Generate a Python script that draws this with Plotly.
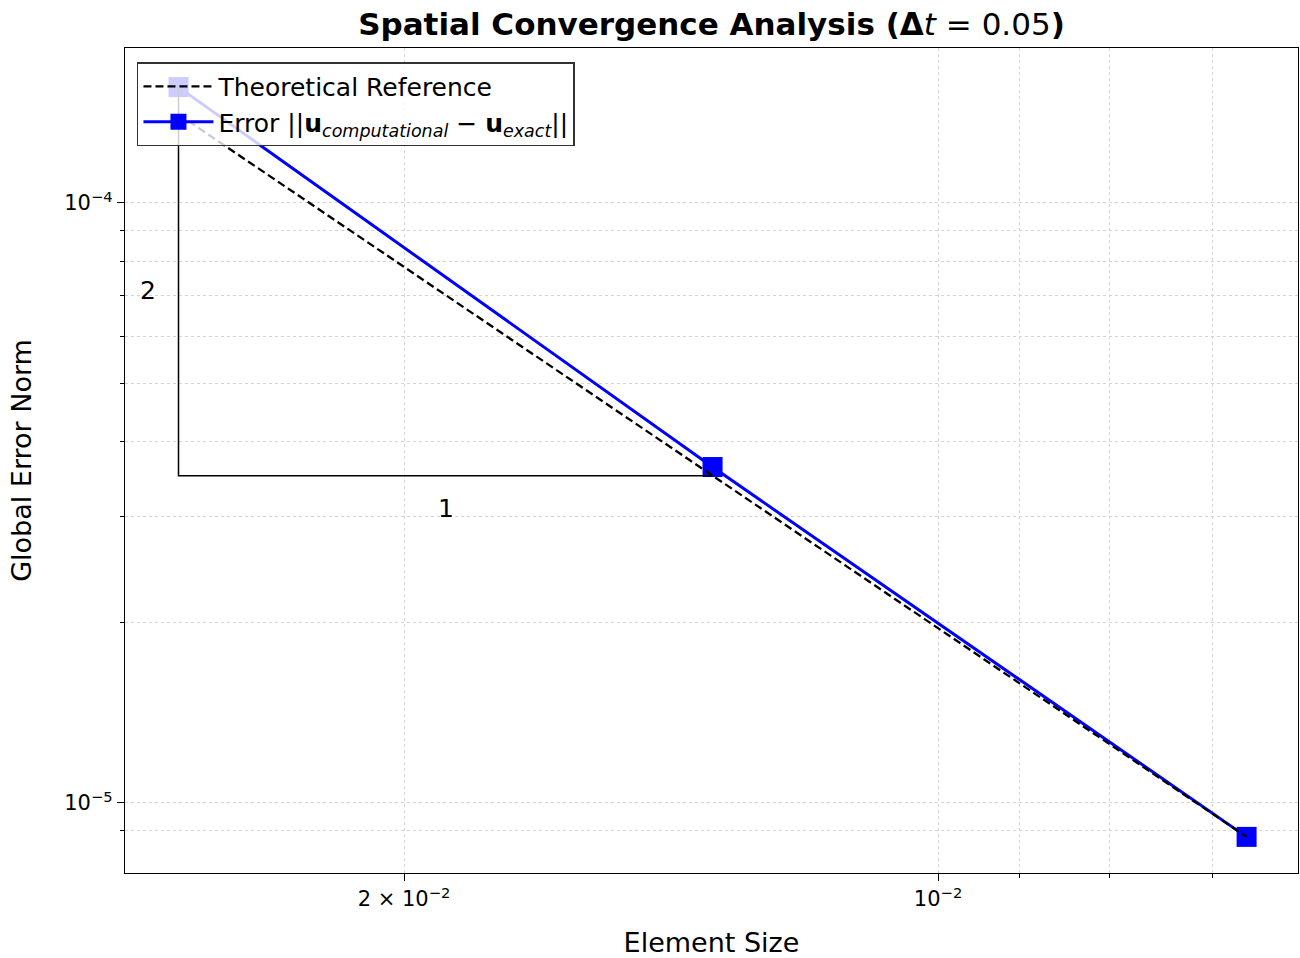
import numpy as np
import plotly.graph_objects as go

# Data
h = [0.0268, 0.0134, 0.0067]
err = [1.56e-4, 3.63e-5, 8.78e-6]
ref = [1.405e-4, 3.512e-5, 8.78e-6]

x_major = [0.02, 0.01]
x_major_text = ["2 × 10<sup>−2</sup>", "10<sup>−2</sup>"]
x_minor = [0.009, 0.008, 0.007]
y_major = [1e-4, 1e-5]
y_major_text = ["10<sup>−4</sup>", "10<sup>−5</sup>"]
y_minor = [k * 1e-5 for k in range(2, 10)] + [9e-6]

FONT = "DejaVu Sans"
fig = go.Figure()

fig.add_trace(go.Scatter(
    x=h, y=err, mode="lines+markers",
    name="Error ||<b>u</b><sub><i>computational</i></sub> − <b>u</b><sub><i>exact</i></sub>||",
    line=dict(color="#0000ff", width=3),
    marker=dict(symbol="square", size=20, color="#0000ff"),
    legendrank=2,
))
fig.add_trace(go.Scatter(
    x=h, y=ref, mode="lines", name="Theoretical Reference",
    line=dict(color="black", width=2.3, dash="8px,4px"),
    legendrank=1,
))
# slope triangle
tri_x = [h[0], h[0], h[1]]
tri_y = [err[0], ref[1], ref[1]]
fig.add_trace(go.Scatter(
    x=tri_x, y=tri_y, mode="lines", showlegend=False,
    line=dict(color="black", width=1.5), hoverinfo="skip",
))

lx0, lx1 = np.log10(h[0]), np.log10(h[1])
ly0, ly1 = np.log10(err[0]), np.log10(ref[1])
fig.add_annotation(x=lx0, y=(ly0 + ly1) / 2 - 0.015, text="2", showarrow=False,
                   xshift=-31, font=dict(size=25, color="black", family=FONT))
fig.add_annotation(x=(lx0 + lx1) / 2, y=ly1, text="1", showarrow=False,
                   yshift=-33, font=dict(size=25, color="black", family=FONT))

axis_common = dict(
    type="log", showline=True, linecolor="black", linewidth=1.3, mirror=True,
    ticks="outside", ticklen=7, tickcolor="black", tickwidth=1.2,
    showgrid=True, gridcolor="#d4d4d4", griddash="dot", gridwidth=1,
    zeroline=False, tickfont=dict(size=21, color="black", family=FONT),
)

fig.update_layout(
    width=1300, height=958,
    margin=dict(l=125, r=2, t=48, b=85),
    paper_bgcolor="white", plot_bgcolor="white",
    font=dict(family=FONT, color="black"),
    title=dict(text="<b>Spatial Convergence Analysis (Δ</b><i>t</i> = 0.05<b>)</b>",
               x=0.5, xref="paper", xanchor="center", y=0.975, yanchor="middle",
               font=dict(size=31, color="black", family=FONT)),
    xaxis=dict(**axis_common, range=[-1.5417, -2.2029],
               tickvals=x_major, ticktext=x_major_text,
               title=dict(text="Element Size", font=dict(size=27, family=FONT), standoff=22),
               minor=dict(tickvals=x_minor, ticks="outside", ticklen=4, tickcolor="black",
                          showgrid=True, gridcolor="#d4d4d4", griddash="dot")),
    yaxis=dict(**axis_common, range=[-5.1167, -3.7417],
               tickvals=y_major, ticktext=y_major_text,
               title=dict(text="Global Error Norm", font=dict(size=27, family=FONT), standoff=24),
               minor=dict(tickvals=y_minor, ticks="outside", ticklen=4, tickcolor="black",
                          showgrid=True, gridcolor="#d4d4d4", griddash="dot")),
    legend=dict(x=0.0102, y=0.983, xanchor="left", yanchor="top",
                bgcolor="rgba(255,255,255,0.8)", bordercolor="#333333", borderwidth=1.5,
                font=dict(size=25, color="black", family=FONT),
                itemwidth=70, tracegroupgap=4),
)

fig.write_html("out.html")
